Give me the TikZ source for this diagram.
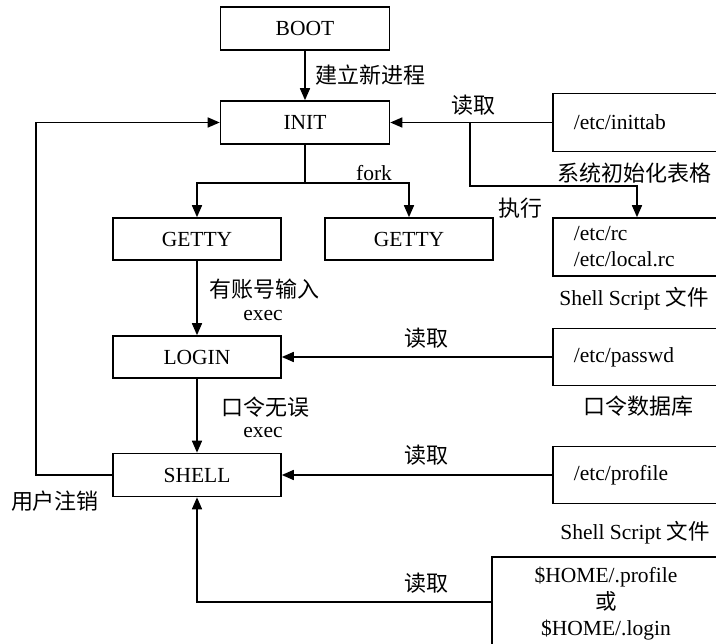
\documentclass[tikz,border=0pt]{standalone}
\usepackage{fontspec}
\setmainfont{Liberation Serif}
\newfontfamily\cjk{Noto Sans CJK SC}
\usetikzlibrary{arrows.meta}
\tikzset{
  box/.style={draw, line width=1.6pt, rectangle, inner sep=0pt, font=\fontsize{21.5}{26}\selectfont},
  cbox/.style={box, minimum width=169pt, minimum height=43pt},
  rbox/.style={box, anchor=west, minimum height=58pt, text width=158pt, inner xsep=21pt, align=left},
  conn/.style={line width=1.6pt},
  arr/.style={conn, -{Triangle[length=12pt,width=10pt]}},
  lbl/.style={inner sep=0pt, font=\fontsize{21.5}{26}\selectfont},
  clbl/.style={inner sep=0pt, font=\fontsize{22}{26}\selectfont\cjk},
}
\begin{document}
\begin{tikzpicture}[x=1pt,y=-1pt]
\clip (0,0) rectangle (716,644);
\fill[white] (0,0) rectangle (716,644);
% main column
\node[cbox] (BOOT) at (305,28.5) {BOOT};
\node[cbox] (INIT) at (305,122.5) {INIT};
\node[cbox, minimum width=168pt, minimum height=42pt] (G1) at (197,239) {GETTY};
\node[cbox, minimum width=168pt, minimum height=42pt] (G2) at (409,239) {GETTY};
\node[cbox, minimum width=168pt, minimum height=42pt] (LOGIN) at (197,357) {LOGIN};
\node[cbox, minimum width=168pt] (SHELL) at (197,475) {SHELL};
% right column (cut at right edge)
\node[rbox] (inittab) at (552,122.5) {/etc/inittab};
\node[rbox] (rc) at (552,247) {/etc/rc\\/etc/local.rc};
\node[rbox, minimum height=57pt] (passwd) at (552,357) {/etc/passwd};
\node[rbox, minimum height=57pt] (profile) at (552,475) {/etc/profile};
\node[box, minimum width=228pt, minimum height=94pt, align=center, font=\fontsize{21.5}{26.5}\selectfont] (HOME) at (606,604) {\$HOME/.profile\\{\cjk 或}\\\$HOME/.login};
% connectors
\draw[arr] (BOOT.south) -- (INIT.north);
\draw[arr] (inittab.west) -- (INIT.east);
\coordinate (brA) at (470,122.5);
\coordinate (brB) at (637,186);
\draw[arr] (brA) |- (brB) -- (brB |- rc.north);
\coordinate (fk) at (305,183);
\draw[conn] (INIT.south) -- (fk);
\draw[arr] (fk) -| (G1.north);
\draw[arr] (fk) -| (G2.north);
\draw[arr] (G1.south) -- (LOGIN.north);
\draw[arr] (passwd.west) -- (LOGIN.east);
\draw[arr] (LOGIN.south) -- (SHELL.north);
\draw[arr] (profile.west) -- (SHELL.east);
\coordinate (lb) at (36,475);
\draw[arr] (SHELL.west) -- (lb) |- (INIT.west);
\coordinate (hb) at (492,602);
\draw[arr] (hb) -| (SHELL.south);
% labels
\node[clbl, anchor=west] (l1) at (315,75) {建立新进程};
\node[clbl] (l2) at (473,105) {读取};
\node[clbl] (l3) at (634,173) {系统初始化表格};
\node[lbl] (l4) at (374,173) {fork};
\node[clbl] (l5) at (520,208) {执行};
\node[lbl] (l6) at (634,299) {Shell Script {\cjk 文件}};
\node[clbl, anchor=west] (l7) at (209,289) {有账号输入};
\node[lbl] (l8) at (263,316) {exec};
\node[clbl] (l9) at (426,338) {读取};
\node[clbl] (l10) at (638,406) {口令数据库};
\node[clbl, anchor=west] (l11) at (221,407) {口令无误};
\node[lbl] (l12) at (263,433) {exec};
\node[clbl] (l13) at (426,455) {读取};
\node[clbl] (l14) at (55,501) {用户注销};
\node[lbl] (l15) at (635,533) {Shell Script {\cjk 文件}};
\node[clbl] (l16) at (426,583) {读取};
\end{tikzpicture}
\end{document}
